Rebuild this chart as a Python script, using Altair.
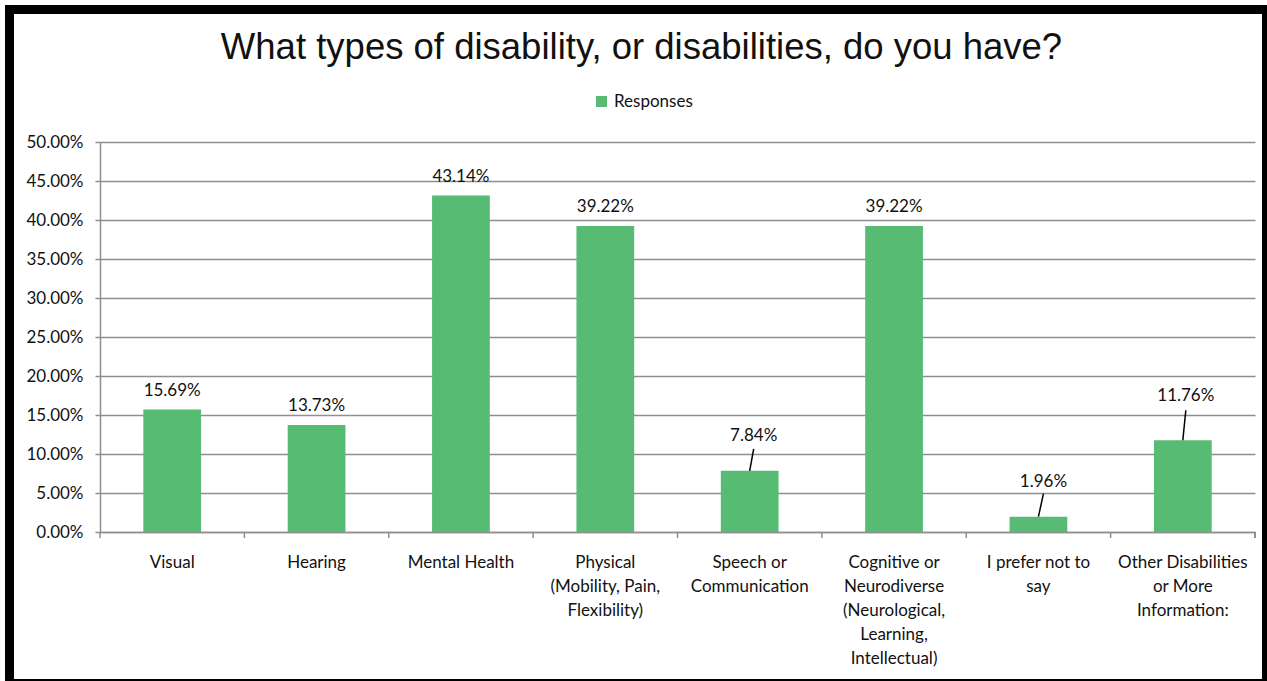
import altair as alt
import pandas as pd

# ---- data ----
categories = [
    "Visual",
    "Hearing",
    "Mental Health",
    "Physical\n(Mobility, Pain,\nFlexibility)",
    "Speech or\nCommunication",
    "Cognitive or\nNeurodiverse\n(Neurological,\nLearning,\nIntellectual)",
    "I prefer not to\nsay",
    "Other Disabilities\nor More\nInformation:",
]
values = [0.1569, 0.1373, 0.4314, 0.3922, 0.0784, 0.3922, 0.0196, 0.1176]
series_name = "Responses"
y_ticks = [0.0, 0.05, 0.10, 0.15, 0.20, 0.25, 0.30, 0.35, 0.40, 0.45, 0.50]

# ---- style ----
GREEN = "#57BB73"
GRID = "#8f8f8f"
TEXT = "#111111"
FONT = "Lato"
FS = 17
W, H = 1155, 390
STEP = W / len(categories)
# labels pulled away from short bars with a leader line: (label lift px, line gap px, tilt px)
leader_style = {
    "Speech or\nCommunication": (35, 13, 4),
    "I prefer not to\nsay": (35, 12, 5),
    "Other Disabilities\nor More\nInformation:": (44, 14, 3),
}

df = pd.DataFrame({"category": categories, "value": values, "series": series_name})

x_enc = alt.X(
    "category:N",
    sort=categories,
    scale=alt.Scale(paddingInner=0.6, paddingOuter=0.3),
    axis=alt.Axis(
        title=None, labelAngle=0, ticks=False,
        labelExpr="split(datum.label, '\\n')",
        labelFont=FONT, labelFontSize=FS, labelColor=TEXT,
        labelBaseline="top", labelLineHeight=24, labelPadding=22,
        labelLimit=0, domainColor=GRID, domainWidth=1.5,
    ),
)
y_enc = alt.Y(
    "value:Q",
    scale=alt.Scale(domain=[0, 0.5], nice=False),
    axis=alt.Axis(
        title=None, values=y_ticks, format=".2%", labelOverlap=False,
        labelFont=FONT, labelFontSize=FS, labelColor=TEXT, labelPadding=12,
        tickSize=5, tickColor=GRID, tickWidth=1.5,
        gridColor=GRID, gridWidth=1.5, domainColor=GRID, domainWidth=1.5,
    ),
)

base = alt.Chart(df)

bars = base.mark_bar(size=STEP * 0.4).encode(
    x=x_enc,
    y=y_enc,
    color=alt.Color(
        "series:N",
        scale=alt.Scale(range=[GREEN]),
        legend=alt.Legend(
            title=None, orient="none", legendX=493, legendY=-49,
            symbolType="square", symbolSize=121, symbolStrokeWidth=0,
            labelFont=FONT, labelFontSize=FS, labelColor=TEXT, labelOffset=4,
        ),
    ),
)

plain_labels = base.transform_filter(
    alt.FieldOneOfPredicate(field="category", oneOf=[c for c in categories if c not in leader_style])
).mark_text(baseline="middle", dy=-19, font=FONT, fontSize=FS, color=TEXT).encode(
    x=x_enc,
    y=y_enc,
    text=alt.Text("value:Q", format=".2%"),
)

# x-axis boundary ticks
ticks = base.mark_rule(color=GRID, strokeWidth=1.5, xOffset=-STEP / 2).encode(
    x=x_enc,
    y=alt.value(H),
    y2=alt.value(H + 6),
)
last_tick = base.mark_rule(color=GRID, strokeWidth=1.5).encode(
    x=alt.value(W), y=alt.value(H), y2=alt.value(H + 6)
)

layers = [bars, plain_labels, ticks, last_tick]
for cat, (lift, gap, tilt) in leader_style.items():
    sub = base.transform_filter(alt.datum.category == cat)
    layers.append(
        sub.mark_text(baseline="middle", dy=-lift, dx=tilt, font=FONT, fontSize=FS, color=TEXT).encode(
            x=x_enc,
            y=y_enc,
            text=alt.Text("value:Q", format=".2%"),
        )
    )
    layers.append(
        sub.mark_rule(color="#000000", strokeWidth=1.5, y2Offset=-(lift - gap), x2Offset=tilt).encode(
            x=x_enc,
            x2="category:N",
            y=y_enc,
            y2="value:Q",
        )
    )

# outer frame of the picture
frame = [
    base.mark_rule(color="#000000", strokeWidth=9).encode(
        x=alt.value(-90.5), y=alt.value(-137), y2=alt.value(539)),
    base.mark_rule(color="#000000", strokeWidth=9).encode(
        x=alt.value(-95), x2=alt.value(1167), y=alt.value(-132.5)),
    base.mark_rule(color="#000000", strokeWidth=6).encode(
        x=alt.value(1165), y=alt.value(-137), y2=alt.value(539)),
    base.mark_rule(color="#000000", strokeWidth=2).encode(
        x=alt.value(-95), x2=alt.value(1167), y=alt.value(538)),
]
layers += frame

chart = alt.layer(*layers).properties(
    width=W,
    height=H,
    title=alt.TitleParams(
        "What types of disability, or disabilities, do you have?",
        font="Liberation Sans", fontSize=36.5, fontWeight="normal", color=TEXT,
        anchor="middle", frame="group", dx=-36, offset=-95, baseline="alphabetic",
    ),
    autosize=alt.AutoSizeParams(type="none"),
    padding={"left": 100, "top": 142, "right": 12, "bottom": 149},
    background="white",
).configure_view(stroke=None)

chart.save("out.html", embed_options={"renderer": "svg", "actions": False})
